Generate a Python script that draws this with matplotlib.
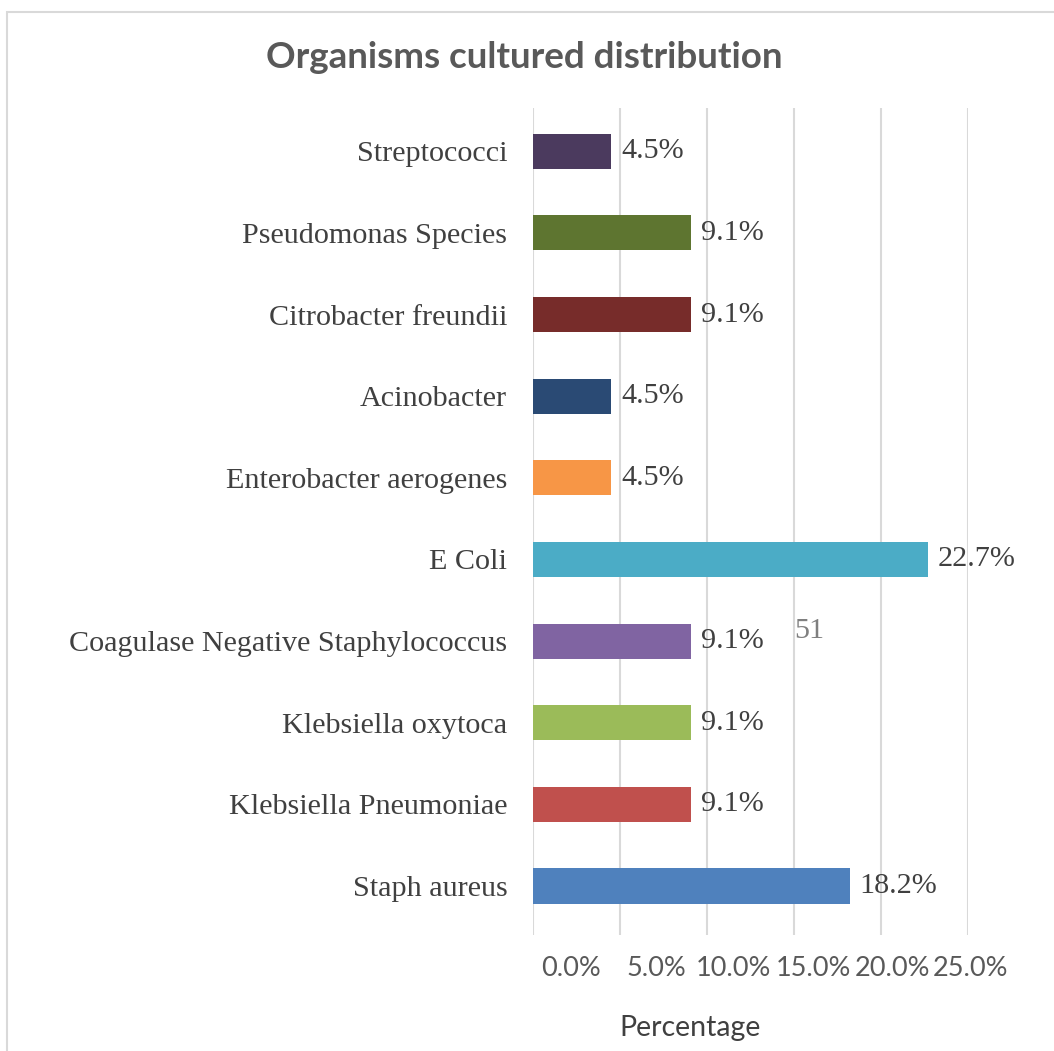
import matplotlib
matplotlib.use("Agg")
import matplotlib.pyplot as plt
from matplotlib.patches import Rectangle
from matplotlib.transforms import ScaledTranslation

# Data (bottom to top)
organisms = ["Staph aureus", "Klebsiella Pneumoniae", "Klebsiella oxytoca",
             "Coagulase Negative Staphylococcus", "E Coli", "Enterobacter aerogenes",
             "Acinobacter", "Citrobacter freundii", "Pseudomonas Species", "Streptococci"]
percent = [18.2, 9.1, 9.1, 9.1, 22.7, 4.5, 4.5, 9.1, 9.1, 4.5]
colors = ["#4F81BD", "#C0504D", "#9BBB59", "#8064A2", "#4BACC6", "#F79646",
          "#2A4A74", "#772C2A", "#5E7530", "#4B3A5E"]
xticks = [0, 5, 10, 15, 20, 25]
xtick_labels = ["0.0%", "5.0%", "10.0%", "15.0%", "20.0%", "25.0%"]
title = "Organisms cultured distribution"
xlabel = "Percentage"
stray_text = "51"

W, H = 1054, 1051
fig = plt.figure(figsize=(W / 100, H / 100), dpi=100)
fig.patch.set_facecolor("white")

# chart frame
fig.patches.append(Rectangle((7 / W, -0.01), 1.02, 1 - 12 / H + 0.01,
                             transform=fig.transFigure, fill=False,
                             edgecolor="#D9D9D9", linewidth=1.5))

ax = fig.add_axes([533 / W, 1 - 935 / H, 435 / W, (935 - 108) / H])
ypos = list(range(len(organisms)))
ax.barh(ypos, percent, height=0.43, color=colors, zorder=3)
ax.set_xlim(0, 25)
ax.set_ylim(-0.6, 9.53)
ax.set_xticks(xticks)
ax.set_xticklabels(xtick_labels, fontfamily="Lato", fontsize=19.5, color="#595959")
ax.set_yticks(ypos)
ax.set_yticklabels(organisms, fontfamily="Liberation Serif", fontsize=21.7, color="#404040")
ax.tick_params(axis="both", length=0)
ax.tick_params(axis="x", pad=15)
ax.tick_params(axis="y", pad=18.5)
ax.grid(axis="x", color="#D9D9D9", linewidth=1.5, zorder=0)
ax.grid(axis="y", visible=False)
for s in ax.spines.values():
    s.set_visible(False)

# tick labels sit a bit right of their gridlines in the reference
for lab, dx in zip(ax.get_xticklabels(), [38, 36, 26, 19, 11, 3]):
    lab.set_transform(lab.get_transform() + ScaledTranslation(dx / 100, 0, fig.dpi_scale_trans))

for y, v in zip(ypos, percent):
    ax.annotate(f"{v:.1f}%", xy=(v, y), xytext=(7, 0), textcoords="offset points",
                ha="left", va="center", fontfamily="Liberation Serif", fontsize=21.7,
                color="#404040", annotation_clip=False)

ax.annotate(stray_text, xy=(15, 3), xytext=(0, 7), textcoords="offset points",
            ha="left", va="center", fontfamily="Liberation Serif", fontsize=21.7,
            color="#7F7F7F", annotation_clip=False)

fig.text(524 / W, 1 - 58 / H, title, ha="center", va="center", fontfamily="Lato",
         fontweight="bold", fontsize=26.5, color="#595959")
fig.text(690 / W, 1 - 1028 / H, xlabel, ha="center", va="center", fontfamily="Lato",
         fontsize=20.5, color="#404040")

fig.savefig("out.png", dpi=100, facecolor="white")
